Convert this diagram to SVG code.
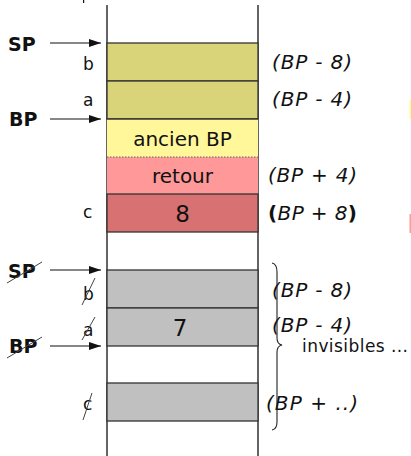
<svg xmlns="http://www.w3.org/2000/svg" width="411" height="456" viewBox="0 0 411 456">
<style>
text{font-family:"DejaVu Sans","Liberation Sans",sans-serif;fill:#111}
.lbl{font-size:17px}
.reg{font-size:19px;font-weight:bold}
.off{font-size:20px;font-style:italic}
.cell{font-size:20px;text-anchor:middle}
.big{font-size:23px;text-anchor:middle}
.box{stroke:#333;stroke-width:1.3}
.strike{stroke:#444;stroke-width:1;fill:none}
.arr{stroke:#111;stroke-width:1.2;fill:none;marker-end:url(#ah)}
</style>
<defs>
<marker id="ah" markerWidth="12" markerHeight="8" refX="12" refY="4" orient="auto" markerUnits="userSpaceOnUse">
<path d="M0,0 L12,4 L0,8 Z" fill="#111"/>
</marker>
</defs>
<rect x="0" y="0" width="411" height="456" fill="#fff"/>
<rect x="83" y="0" width="1.2" height="3" fill="#111"/>
<rect x="409.5" y="100" width="1.5" height="19" fill="#ffff88"/>
<rect x="409.5" y="214" width="1.5" height="19" fill="#ff9999"/>

<g id="stack-walls">
<line x1="107" y1="5" x2="107" y2="456" stroke="#111" stroke-width="1.3"/>
<line x1="258" y1="5" x2="258" y2="456" stroke="#111" stroke-width="1.3"/>
</g>

<g id="cell-b"><rect class="box" x="107" y="43" width="151" height="38" fill="#d9d37a"/><text class="lbl" x="83" y="70">b</text><text class="off" x="272" y="69" textLength="80">(BP - 8)</text></g>
<g id="cell-a"><rect class="box" x="107" y="81" width="151" height="38" fill="#d9d37a"/><text class="lbl" x="83" y="106">a</text><text class="off" x="272" y="106" textLength="80">(BP - 4)</text></g>
<g id="cell-ancien"><rect x="107" y="119" width="151" height="38" fill="#fff799"/><line class="box" x1="107" y1="119" x2="258" y2="119"/><text class="cell" x="182.5" y="146">ancien BP</text></g>
<g id="cell-retour"><rect x="107" y="157" width="151" height="37" fill="#ff9999"/><line x1="107" y1="157" x2="258" y2="157" stroke="#666" stroke-width="1" stroke-dasharray="1.5,1.5"/><text class="cell" x="182.5" y="183">retour</text><text class="off" x="268" y="182" textLength="89">(BP + 4)</text></g>
<g id="cell-c"><rect class="box" x="107" y="194" width="151" height="38" fill="#d87272"/><text class="lbl" x="83" y="218">c</text><text class="big" x="182.5" y="222">8</text><text class="off" x="268" y="220" textLength="89"><tspan font-weight="bold" font-style="normal">(</tspan>BP + 8<tspan font-weight="bold" font-style="normal">)</tspan></text></g>

<g id="cell-b2"><rect class="box" x="107" y="270" width="151" height="38" fill="#c0c0c0"/><text class="lbl" x="83" y="300">b</text><line class="strike" x1="82" y1="305" x2="95" y2="278"/><text class="off" x="272" y="297" textLength="80">(BP - 8)</text></g>
<g id="cell-a2"><rect class="box" x="107" y="308" width="151" height="38" fill="#c0c0c0"/><text class="lbl" x="83" y="336">a</text><line class="strike" x1="82" y1="340" x2="95" y2="317"/><text class="big" x="180" y="336">7</text><text class="off" x="272" y="332" textLength="80">(BP - 4)</text></g>
<g id="cell-c2"><rect class="box" x="107" y="383" width="151" height="38" fill="#c0c0c0"/><text class="lbl" x="83" y="410">c</text><line class="strike" x1="83" y1="420" x2="92" y2="393"/><text class="off" x="266" y="410" textLength="92">(BP + ..)</text></g>

<g id="reg-sp"><text class="reg" x="8" y="51">SP</text></g>
<g id="reg-bp"><text class="reg" x="9" y="126">BP</text></g>
<g id="reg-sp-old"><text class="reg" x="8" y="278">SP</text><line class="strike" x1="7" y1="283" x2="42" y2="262"/></g>
<g id="reg-bp-old"><text class="reg" x="9" y="353">BP</text><line class="strike" x1="7" y1="358" x2="42" y2="337"/></g>

<g id="brace"><path d="M272,263 Q277,264 277,272 L277,338 Q277,344 282,345 Q277,346 277,352 L277,422 Q277,429 272,430" fill="none" stroke="#222" stroke-width="1.1"/><text class="lbl" x="302" y="352" textLength="106">invisibles ...</text></g>

<g id="connectors">
<line class="arr" x1="50" y1="43" x2="101" y2="43"/>
<line class="arr" x1="50" y1="119" x2="101" y2="119"/>
<line class="arr" x1="50" y1="270" x2="101" y2="270"/>
<line class="arr" x1="50" y1="346" x2="101" y2="346"/>
</g>
</svg>
